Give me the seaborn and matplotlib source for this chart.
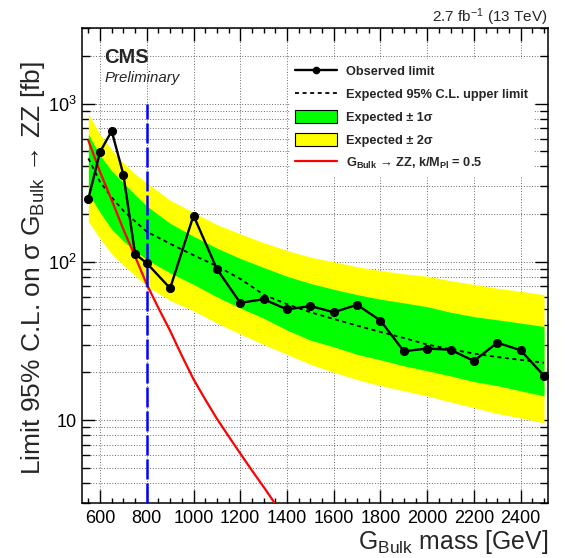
import matplotlib
matplotlib.use("Agg")
import matplotlib.pyplot as plt
import matplotlib.ticker as mticker
from matplotlib.lines import Line2D
from matplotlib.patches import Patch
import numpy as np
import pandas as pd
import seaborn as sns

# ---------------- data ----------------
mass_obs = [550, 600, 650, 700, 750, 800, 900, 1000, 1100, 1200, 1300, 1400, 1500,
            1600, 1700, 1800, 1900, 2000, 2100, 2200, 2300, 2400, 2500]
observed = [250, 495, 670, 355, 112, 98, 68, 196, 90, 55, 58, 50, 52.5,
            48, 53.5, 42.5, 27.2, 28.3, 27.8, 23.6, 30.8, 27.6, 19.0]

mass_exp = [550, 600, 650, 700, 750, 800, 900, 1000, 1100, 1200, 1300, 1400, 1500,
            1600, 1700, 1800, 1900, 2000, 2100, 2200, 2300, 2400, 2500]
expected = [450, 320, 255, 210, 180, 155, 130, 110, 94, 78, 62, 54, 48,
            43.5, 39.5, 36, 33, 30, 28, 26.3, 25, 24, 23]
exp_p1 = [640, 470, 375, 315, 265, 225, 175, 145, 122, 105, 92, 81, 73,
          67, 62, 58, 55, 52, 48, 45, 43, 41, 39]
exp_m1 = [270, 205, 160, 135, 118, 103, 85, 72, 60, 51, 44, 37, 32,
          29, 26, 24, 22, 20.5, 19, 17.5, 16.5, 15.3, 14.2]
exp_p2 = [860, 640, 510, 420, 360, 315, 245, 205, 172, 150, 132, 118, 107,
          100, 93, 88, 84, 81, 76, 72, 68, 65, 62]
exp_m2 = [180, 140, 112, 95, 82, 70, 57, 49, 41, 35, 30, 26, 22.5,
          20, 18, 16.5, 15.3, 14.2, 13, 12, 11, 10.3, 9.6]

mass_theory = [550, 600, 650, 700, 750, 800, 850, 900, 950, 1000, 1050, 1100,
               1150, 1200, 1250, 1300, 1350, 1400]
theory = [583, 370, 245, 160, 108, 72, 51, 36.6, 25.5, 18.1, 13.5, 10.2,
          7.9, 6.15, 4.8, 3.78, 2.95, 2.3]

x_major = [600, 800, 1000, 1200, 1400, 1600, 1800, 2000, 2200, 2400]
y_major = [10, 100, 1000]
y_major_labels = ["10", "$10^2$", "$10^3$"]

# ---------------- style ----------------
sns.set_style("ticks")
plt.rcParams["font.family"] = ["Liberation Sans", "DejaVu Sans"]
plt.rcParams["mathtext.fontset"] = "custom"
plt.rcParams["mathtext.rm"] = "Liberation Sans"
plt.rcParams["mathtext.it"] = "Liberation Sans:italic"
plt.rcParams["mathtext.bf"] = "Liberation Sans:bold"
plt.rcParams["mathtext.sf"] = "Liberation Sans"

fig = plt.figure(figsize=(5.69, 5.58), dpi=100)
ax = fig.add_axes([0.1446, 0.099, 0.8185, 0.8508])

df_obs = pd.DataFrame({"mass": mass_obs, "limit": observed})
df_exp = pd.DataFrame({"mass": mass_exp, "limit": expected})
df_th = pd.DataFrame({"mass": mass_theory, "xs": theory})

ax.fill_between(mass_exp, exp_m2, exp_p2, color="#ffff00", lw=0, zorder=2)
ax.fill_between(mass_exp, exp_m1, exp_p1, color="#00ff00", lw=0, zorder=3)
sns.lineplot(data=df_exp, x="mass", y="limit", ax=ax, color="black", lw=1.3,
             linestyle=(0, (2.2, 2.0)), zorder=4)
sns.lineplot(data=df_th, x="mass", y="xs", ax=ax, color="#ff0000", lw=1.6, zorder=5)
sns.lineplot(data=df_obs, x="mass", y="limit", ax=ax, color="black", lw=1.7,
             marker="o", markersize=5.8, markeredgecolor="black", zorder=6)
ax.plot([800, 800], [3, 1000], color="#0000ff", lw=1.8, dashes=(8, 1.6), zorder=5)

ax.set_yscale("log")
ax.set_xlim(524, 2517)
ax.set_ylim(3, 3000)

ax.xaxis.set_major_locator(mticker.FixedLocator(x_major))
ax.xaxis.set_minor_locator(mticker.MultipleLocator(50))
ax.set_xticklabels([str(v) for v in x_major])
ax.yaxis.set_major_locator(mticker.FixedLocator(y_major))
ax.set_yticklabels(y_major_labels)
ax.yaxis.set_minor_locator(mticker.LogLocator(base=10, subs=np.arange(2, 10)))
ax.yaxis.set_minor_formatter(mticker.NullFormatter())

ax.tick_params(axis="both", which="both", direction="in", top=True, right=True,
               labelsize=13, colors="black", width=1.0)
ax.tick_params(axis="x", which="major", length=9.4, pad=5)
ax.tick_params(axis="x", which="minor", length=3.8)
ax.tick_params(axis="y", which="major", length=9.4, pad=4)
ax.tick_params(axis="y", which="minor", length=5.5)

ax.set_axisbelow(True)
ax.grid(True, which="major", axis="x", color="#555555", ls=(0, (1, 2)), lw=0.65)
ax.grid(True, which="both", axis="y", color="#555555", ls=(0, (1, 2)), lw=0.65)
for s in ax.spines.values():
    s.set_linewidth(1.1)
    s.set_color("black")

ax.set_xlabel(r"G$_{\mathregular{Bulk}}$ mass [GeV]", fontsize=17.8, loc="right", labelpad=1)
ax.set_ylabel("Limit 95% C.L. on \u03c3 G$_{\\mathregular{Bulk}}$ \u2192 ZZ [fb]",
              fontsize=19, loc="top")
ax.yaxis.set_label_coords(-0.075, 0.93)

ax.text(104 / 569, 1 - 63 / 558, "CMS", transform=fig.transFigure, fontsize=14.5,
        fontweight="bold", ha="left", va="baseline")
ax.text(105 / 569, 1 - 82 / 558, "Preliminary", transform=fig.transFigure, fontsize=10.8,
        style="italic", ha="left", va="baseline")
fig.text(548 / 569, 1 - 21.5 / 558, r"2.7 fb$^{-1}$ (13 TeV)", fontsize=11,
         ha="right", va="baseline")

handles = [
    Line2D([], [], color="black", lw=1.7, marker="o", markersize=4.5),
    Line2D([], [], color="black", lw=1.3, linestyle=(0, (2.2, 2.0))),
    Patch(facecolor="#00ff00", edgecolor="black", lw=0.8),
    Patch(facecolor="#ffff00", edgecolor="black", lw=0.8),
    Line2D([], [], color="#ff0000", lw=1.6),
]
labels = [
    "Observed limit",
    "Expected 95% C.L. upper limit",
    "Expected \u00b1 1\u03c3",
    "Expected \u00b1 2\u03c3",
    "G$_{\\mathbf{Bulk}}$ \u2192 ZZ, k/M$_{\\mathbf{Pl}}$ = 0.5",
]
leg = ax.legend(handles, labels, loc="upper left", bbox_to_anchor=(0.446, 0.934),
                prop={"weight": "bold", "size": 9.2}, frameon=True, fancybox=False,
                facecolor="white", edgecolor="white", framealpha=1.0,
                handlelength=3.3, handleheight=1.2, handletextpad=0.7,
                labelspacing=0.70, borderpad=0.4, borderaxespad=0)
leg.set_zorder(10)

fig.savefig("out.png", dpi=100)
